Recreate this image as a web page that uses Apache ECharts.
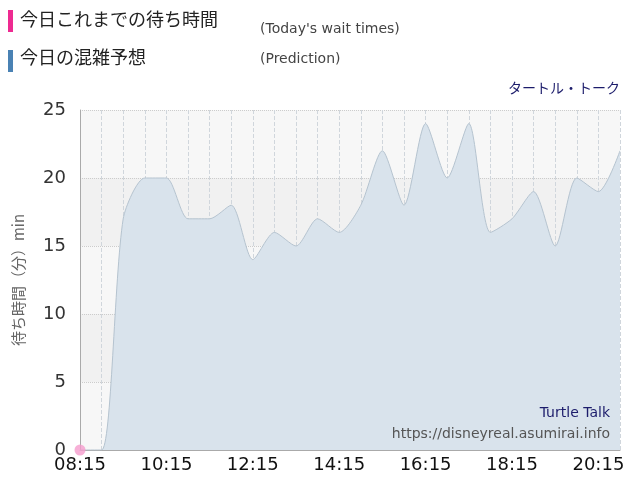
<!DOCTYPE html>
<html><head><meta charset="utf-8">
<script src="https://cdn.jsdelivr.net/npm/echarts@6/dist/echarts.min.js"></script>
<style>html,body{margin:0;padding:0;background:#fff}#c{width:640px;height:500px}</style>
</head><body><div id="c"></div>
<script>
const times = ['08:15','08:45','09:15','09:45','10:15','10:45','11:15','11:45','12:15','12:45','13:15','13:45','14:15','14:45','15:15','15:45','16:15','16:45','17:15','17:45','18:15','18:45','19:15','19:45','20:15','20:45'];
const prediction = [0,0,17,20,20,17,17,18,14,16,15,17,16,18,22,18,24,20,24,16,17,19,15,20,19,22];
const todayTimes = ['08:15'];
const todayValues = [0];
const yTicks = [0,5,10,15,20,25];
const F = '"Noto Sans CJK JP", "Noto Sans", sans-serif';
const D = '"DejaVu Sans", sans-serif';
const chart = echarts.init(document.getElementById('c'), null, {renderer:'canvas'});
chart.setOption({
  animation:false,
  grid:{left:80,right:20,top:110,bottom:50},
  graphic:[
    {type:'rect',shape:{x:8,y:10,width:5,height:22},style:{fill:'#ee2a91'}},
    {type:'text',left:20,top:10,style:{text:'今日これまでの待ち時間',font:'18px '+F,fill:'#222'}},
    {type:'text',left:260,top:22,style:{text:"(Today's wait times)",font:'14px '+D,fill:'#444'}},
    {type:'rect',shape:{x:8,y:50,width:5,height:22},style:{fill:'#4a82b4'}},
    {type:'text',left:20,top:48,style:{text:'今日の混雑予想',font:'18px '+F,fill:'#222'}},
    {type:'text',left:260,top:52,style:{text:'(Prediction)',font:'14px '+D,fill:'#444'}},
    {type:'text',right:20,top:81,style:{text:'タートル・トーク',font:'14px '+F,fill:'#1c1c6b'}},
    {type:'text',right:30,top:406,z:10,style:{text:'Turtle Talk',font:'14px '+D,fill:'#1c1c6b',align:'right'}},
    {type:'text',right:30,top:427,z:10,style:{text:'https://disneyreal.asumirai.info',font:'14px '+D,fill:'#555',align:'right'}}
  ],
  xAxis:{type:'category',data:times,boundaryGap:false,
    axisLine:{lineStyle:{color:'#aaa'}},axisTick:{show:false},
    axisLabel:{interval:3,color:'#111',fontSize:18,fontFamily:D,margin:6},
    splitLine:{show:true,interval:0,lineStyle:{color:'#d0d6dc',type:'dashed'}}},
  yAxis:{type:'value',min:0,max:25,interval:5,
    name:'待ち時間（分）min',nameLocation:'middle',nameGap:54,nameRotate:90,
    nameTextStyle:{color:'#666',fontSize:15,fontFamily:F},
    axisLine:{show:true,lineStyle:{color:'#aaa'}},axisTick:{show:false},
    axisLabel:{color:'#333',fontSize:18,fontFamily:D,margin:14,formatter:v=>yTicks.includes(v)?String(v):''},
    splitLine:{lineStyle:{color:'#ccc',type:'dotted'}},
    splitArea:{show:true,areaStyle:{color:['#f7f7f7','#f1f1f1']}}},
  series:[
    {type:'line',data:prediction,smooth:0.25,symbol:'none',
     lineStyle:{color:'#b5c3cf',width:1},areaStyle:{color:'#d9e3ec',opacity:1}},
    {type:'scatter',data:todayTimes.map((t,i)=>[t,todayValues[i]]),symbolSize:11,
     itemStyle:{color:'#f59ccd'},z:5}
  ]
});
</script></body></html>
